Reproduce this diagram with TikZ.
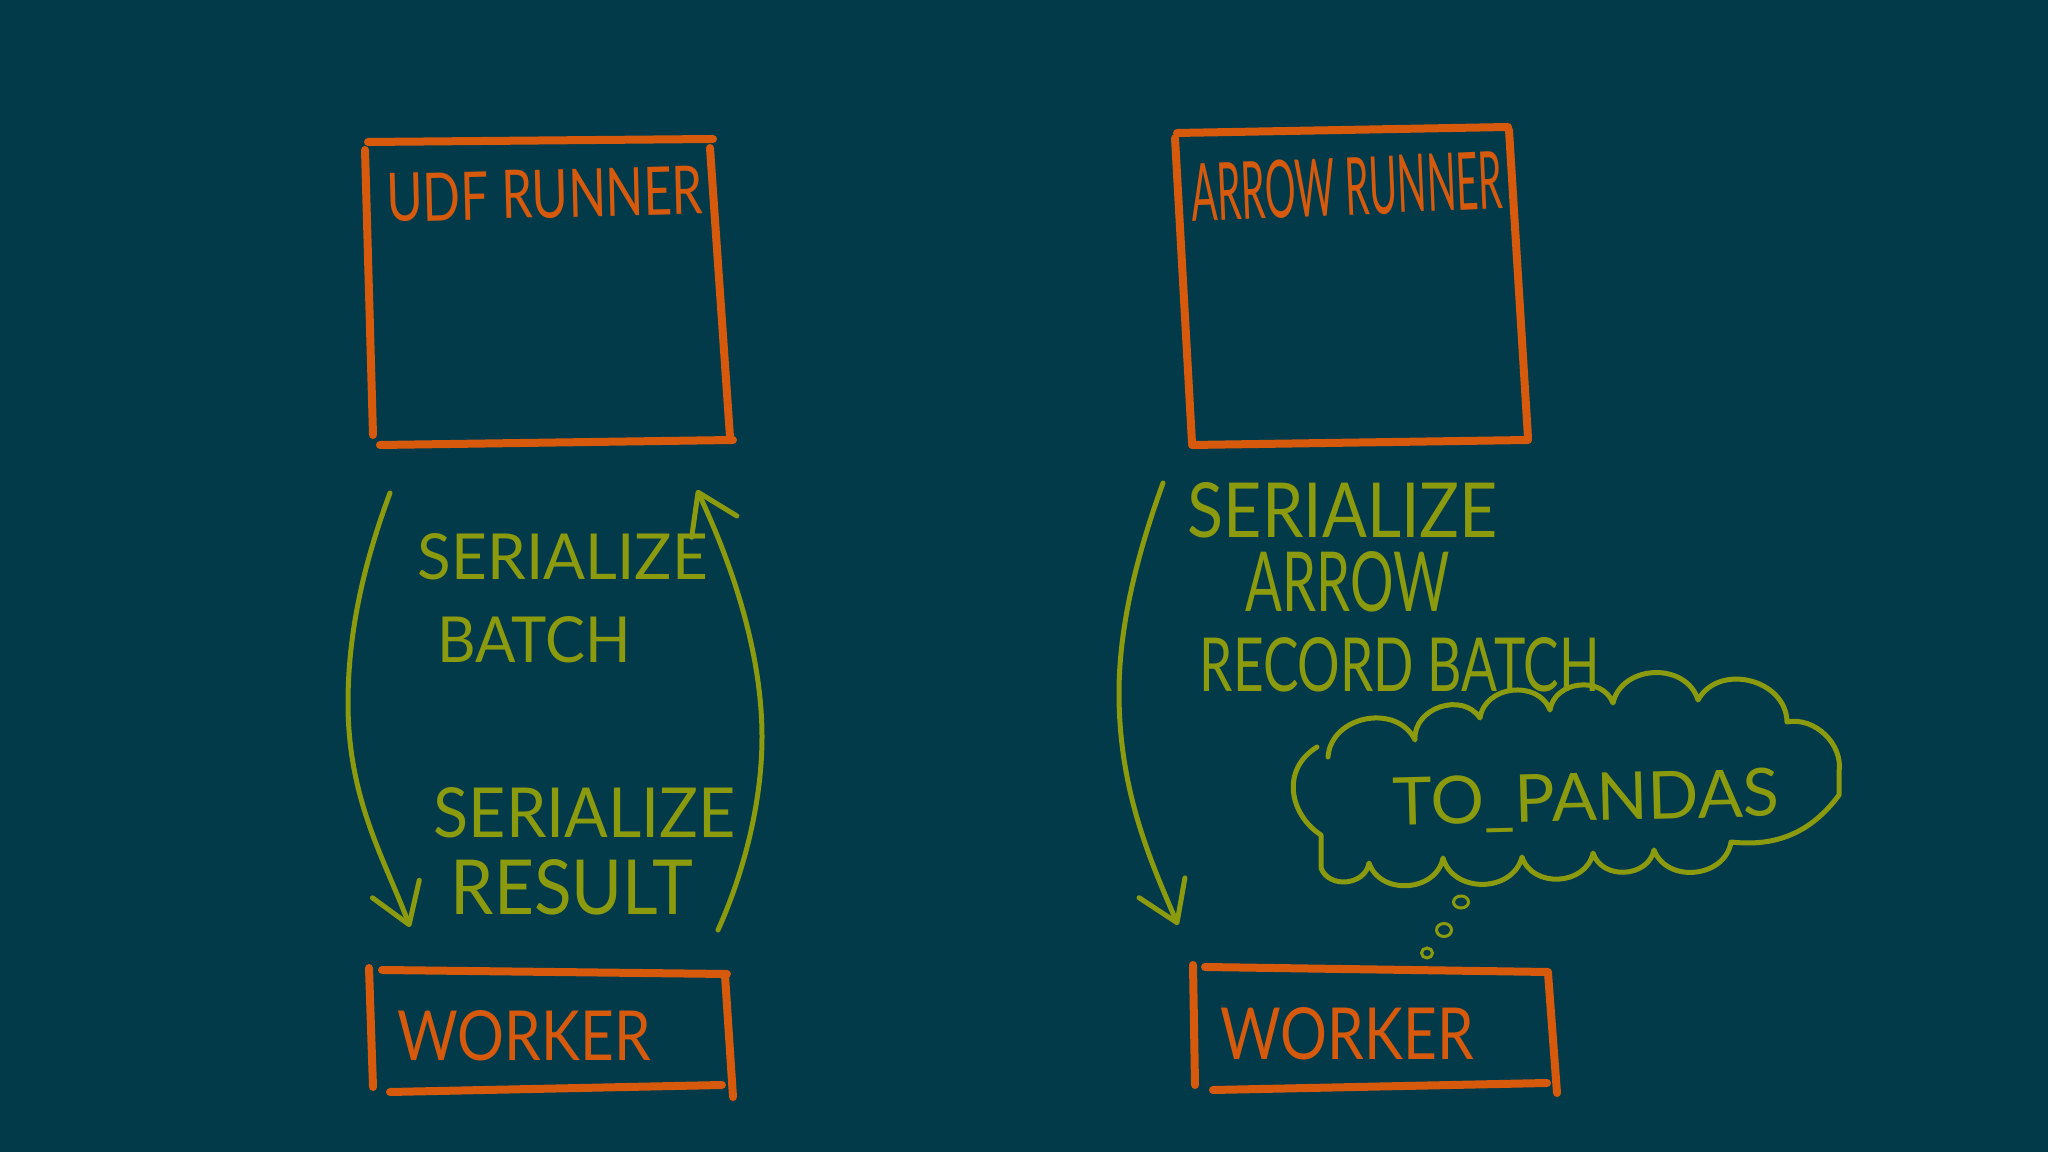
\documentclass[tikz,border=0pt]{standalone}
\usepackage{fontspec}
\setmainfont{Lato}
\usetikzlibrary{arrows.meta}

\definecolor{board}{HTML}{023A4A}
\definecolor{chalkorange}{HTML}{D75A0C}
\definecolor{chalkgreen}{HTML}{8C9A0E}

\newlength\pxlen
\setlength\pxlen{0.1mm}
\newcommand{\handtext}[3]{\resizebox{#1\pxlen}{#2\pxlen}{#3}}

\tikzset{
  boxline/.style={chalkorange, line width=0.8mm, line cap=round},
  flowline/.style={chalkgreen, line width=0.5mm, line cap=round, line join=round,
    -{Straight Barb[round, length=3.8mm, width=5mm]}},
  cloudline/.style={chalkgreen, line width=0.5mm, line cap=round, line join=round},
  thoughtline/.style={chalkgreen, line width=0.3mm},
  boxlabel/.style={chalkorange, anchor=base west, inner sep=0pt},
  flowlabel/.style={chalkgreen, anchor=base west, inner sep=0pt},
  puff/.style={bend left=75, looseness=1.2}
}

\begin{document}
\begin{tikzpicture}[x=0.1mm, y=-0.1mm]
  \fill[board] (0,0) rectangle (2048,1152);
  \useasboundingbox (0,0) rectangle (2048,1152);

  % runner boxes
  \draw[boxline] (365,150) -- (373,435);
  \draw[boxline] (368,142) -- (713,139);
  \draw[boxline] (710,148) -- (730,437);
  \draw[boxline] (380,445) -- (733,440);
  \node[boxlabel, rotate=1.5] (udftitle) at (387,222) {\handtext{316}{48}{UDF RUNNER}};

  \draw[boxline] (1177,133) -- (1508,127);
  \draw[boxline] (1175,138) -- (1192,443);
  \draw[boxline] (1509,130) -- (1528,438);
  \draw[boxline] (1192,445) -- (1528,440);
  \node[boxlabel, rotate=2.5] (arrowtitle) at (1192,222) {\handtext{311}{58}{ARROW RUNNER}};

  % worker boxes
  \draw[boxline] (369,968) -- (373,1087);
  \draw[boxline] (382,970) -- (727,974);
  \draw[boxline] (725,975) -- (733,1097);
  \draw[boxline] (390,1092) -- (722,1085);
  \node[boxlabel] (workerleft) at (397,1060) {\handtext{253}{50}{WORKER}};

  \draw[boxline] (1193,965) -- (1195,1085);
  \draw[boxline] (1205,967) -- (1548,972);
  \draw[boxline] (1548,973) -- (1557,1093);
  \draw[boxline] (1213,1090) -- (1547,1083);
  \node[boxlabel] (workerright) at (1220,1060) {\handtext{253}{52}{WORKER}};

  % udf flow
  \coordinate (udfout) at (390,493);
  \coordinate (udfin) at (410,927);
  \coordinate (resout) at (718,930);
  \coordinate (resin) at (697,490);
  \draw[flowline] (udfout) .. controls (365,560) and (348,630) .. (348,703)
    .. controls (348,800) and (385,860) .. (udfin);
  \draw[flowline] (resout) .. controls (745,870) and (762,800) .. (762,737)
    .. controls (762,650) and (730,560) .. (resin);
  \node[flowlabel] (serbatch) at (417,580) {\handtext{290}{46}{SERIALIZE}};
  \node[flowlabel] (batchword) at (437,663) {\handtext{193}{46}{BATCH}};
  \node[flowlabel] (serresult) at (433,838) {\handtext{302}{50}{SERIALIZE}};
  \node[flowlabel] (resultword) at (450,915) {\handtext{242}{55}{RESULT}};

  % arrow flow
  \coordinate (arrowout) at (1163,483);
  \coordinate (arrowin) at (1178,925);
  \draw[flowline] (arrowout) .. controls (1135,560) and (1119,630) .. (1119,693)
    .. controls (1119,790) and (1150,860) .. (arrowin);
  \node[flowlabel] (serarrow) at (1187,538) {\handtext{310}{55}{SERIALIZE}};
  \node[flowlabel] (arrowword) at (1245,612) {\handtext{204}{60}{ARROW}};
  \node[flowlabel] (recordword) at (1199,692) {\handtext{400}{54}{RECORD BATCH}};

  % thought cloud
  \draw[cloudline] (1328,757) to[puff] (1415,740) to[puff] (1480,718)
    to[puff] (1550,710) to[puff] (1613,703) to[puff] (1698,700)
    to[puff] (1787,722) to[bend left=55] (1839,772) -- (1839,795)
    to[bend left=30] (1731,842) to[puff] (1654,850) to[puff] (1593,853)
    to[puff] (1522,857) to[puff] (1443,858) to[puff] (1369,863)
    to[puff] (1321,868) -- (1321,835)
    .. controls (1290,815) and (1280,770) .. (1317,747);
  \node[flowlabel, rotate=1.5] (topandas) at (1393,826) {\handtext{386}{48}{TO\_PANDAS}};
  \draw[thoughtline] (1461,902) ellipse [x radius=0.75mm, y radius=0.6mm];
  \draw[thoughtline] (1444,930) ellipse [x radius=0.75mm, y radius=0.65mm];
  \draw[thoughtline] (1427,953) ellipse [x radius=0.55mm, y radius=0.5mm];
\end{tikzpicture}
\end{document}
